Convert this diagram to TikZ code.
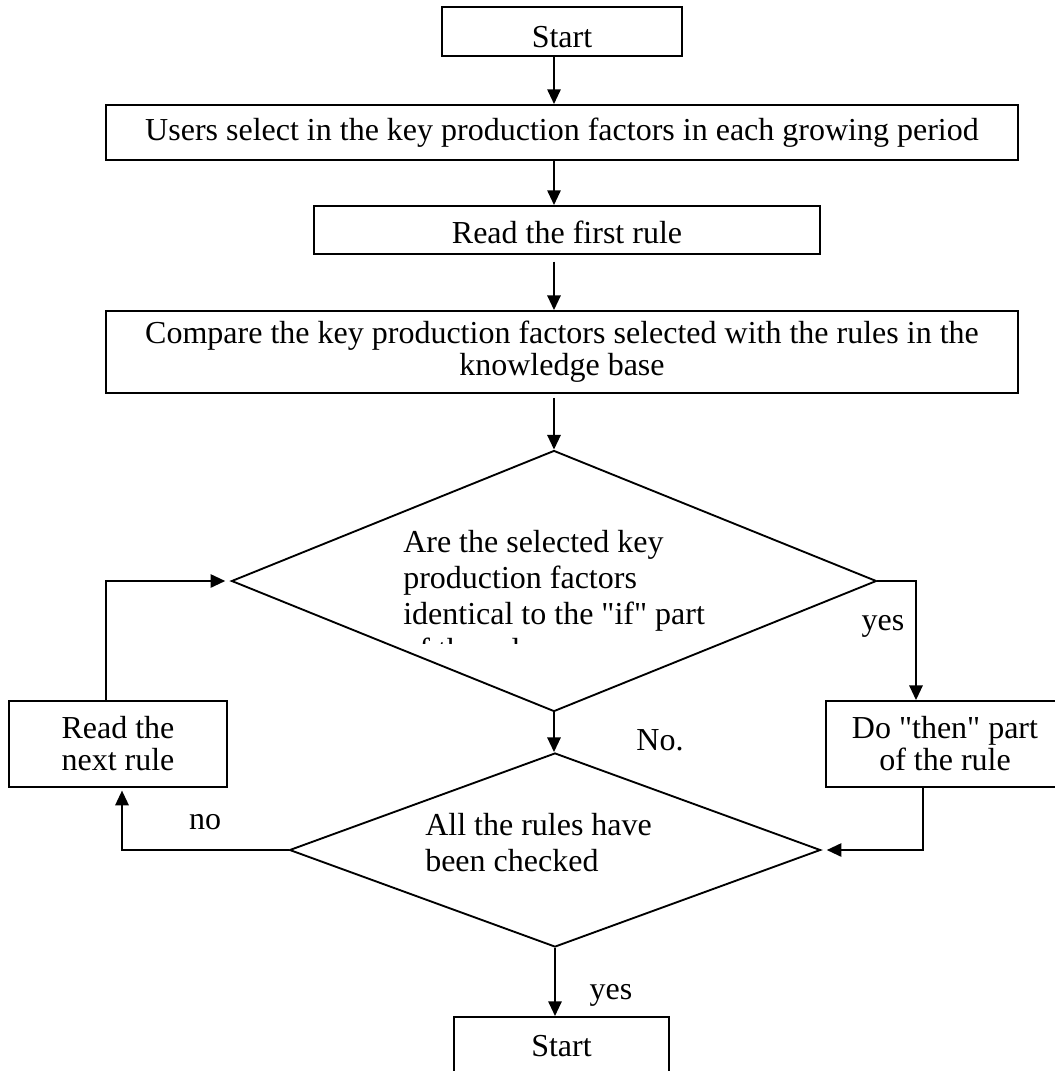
\documentclass[tikz,border=0pt]{standalone}
\usepackage{fontspec}
\setmainfont{Liberation Serif}
\usepackage{tikz}
\usetikzlibrary{shapes.geometric, arrows.meta, positioning}
\tikzset{
    process/.style={
        rectangle,
        draw=black,
        line width=1.4pt,
        inner sep=0pt,
        align=center,
        font=\fontsize{24}{24}\selectfont,
    },
    decision/.style={
        diamond,
        draw=black,
        line width=1.4pt,
        inner sep=0pt,
    },
    question/.style={
        inner sep=0pt,
        align=left,
        anchor=north west,
        font=\fontsize{24}{27}\selectfont,
    },
    answer/.style={
        inner sep=0pt,
        font=\fontsize{24}{27}\selectfont,
    },
    flow/.style={
        -{Triangle[length=11pt,width=10pt]},
        line width=1.4pt,
    },
}

\begin{document}
\begin{tikzpicture}[x=0.75pt, y=-0.75pt]
      \useasboundingbox (0,0) rectangle (1055,1071);
      \clip (0,0) rectangle (1055,1071);

      \node[process, anchor=north, minimum width=180pt, text height=30.75pt, text depth=6pt] (start) at (562,6) {Start};

      \node[process, anchor=north, minimum width=684pt, text height=27pt, text depth=14.25pt] (users) at (562,104) {Users select in the key production factors in each growing period};

      \node[process, anchor=north, minimum width=379.5pt, text height=28.5pt, text depth=7.5pt] (first) at (567,205) {Read the first rule};

      \node[process, minimum width=684pt, minimum height=61.5pt] (compare) at (562,352) {Compare the key production factors selected with the rules in the\\knowledge base};

      \node[decision, minimum width=483.75pt, minimum height=195.75pt] (same) at (554,581) {};
      \begin{scope}
        \clip (0,0) rectangle (1055,643);
        \node[question] (sametxt) at (403,530) {Are the selected key\\production factors\\identical to the \textquotedbl if\textquotedbl{} part\\of the rule};
      \end{scope}

      \node[process, minimum width=178.5pt, minimum height=64.5pt] (then) at (945,744) {Do \textquotedbl then\textquotedbl{} part\\of the rule};

      \node[process, minimum width=163.5pt, minimum height=64.5pt] (next) at (118,744) {Read the\\next rule};

      \node[decision, minimum width=398.25pt, minimum height=145.5pt] (checked) at (555,850) {};
      \node[question] (checkedtxt) at (425,813) {All the rules have\\been checked};

      \node[process, anchor=north, minimum width=161.25pt, text height=30pt, text depth=30pt] (stop) at (561.5,1016) {Start};

      \coordinate (yesturn) at (916,581);
      \coordinate (thenturn) at (923,850);
      \coordinate (noturn) at (122,850);
      \coordinate (backturn) at (106,581);

      \node[answer] (yes1) at (883,626) {yes};
      \node[answer] (no1) at (660,740) {No.};
      \node[answer] (no2) at (205,822) {no};
      \node[answer] (yes2) at (611,995) {yes};

      \draw[flow] (start.south -| same) -- (users.north -| same);
      \draw[flow] (users.south -| same) -- (first.north -| same);
      \draw[flow, shorten <=5pt] (first.south -| same) -- (compare.north -| same);
      \draw[flow, shorten <=3pt] (compare.south -| same) -- (same.north);
      \draw[flow] (same.east) -- (yesturn) -- (yesturn |- then.north);
      \draw[flow] (same.south) -- (same.south |- checked.north);
      \draw[flow, shorten >=4pt] (then.south -| thenturn) -- (thenturn) -- (checked.east);
      \draw[flow, shorten >=2pt] (checked.west) -- (noturn) -- (next.south -| noturn);
      \draw[flow, shorten >=4pt] (next.north -| backturn) -- (backturn) -- (same.west);
      \draw[flow] (checked.south) -- (checked.south |- stop.north);
    \end{tikzpicture}
\end{document}
